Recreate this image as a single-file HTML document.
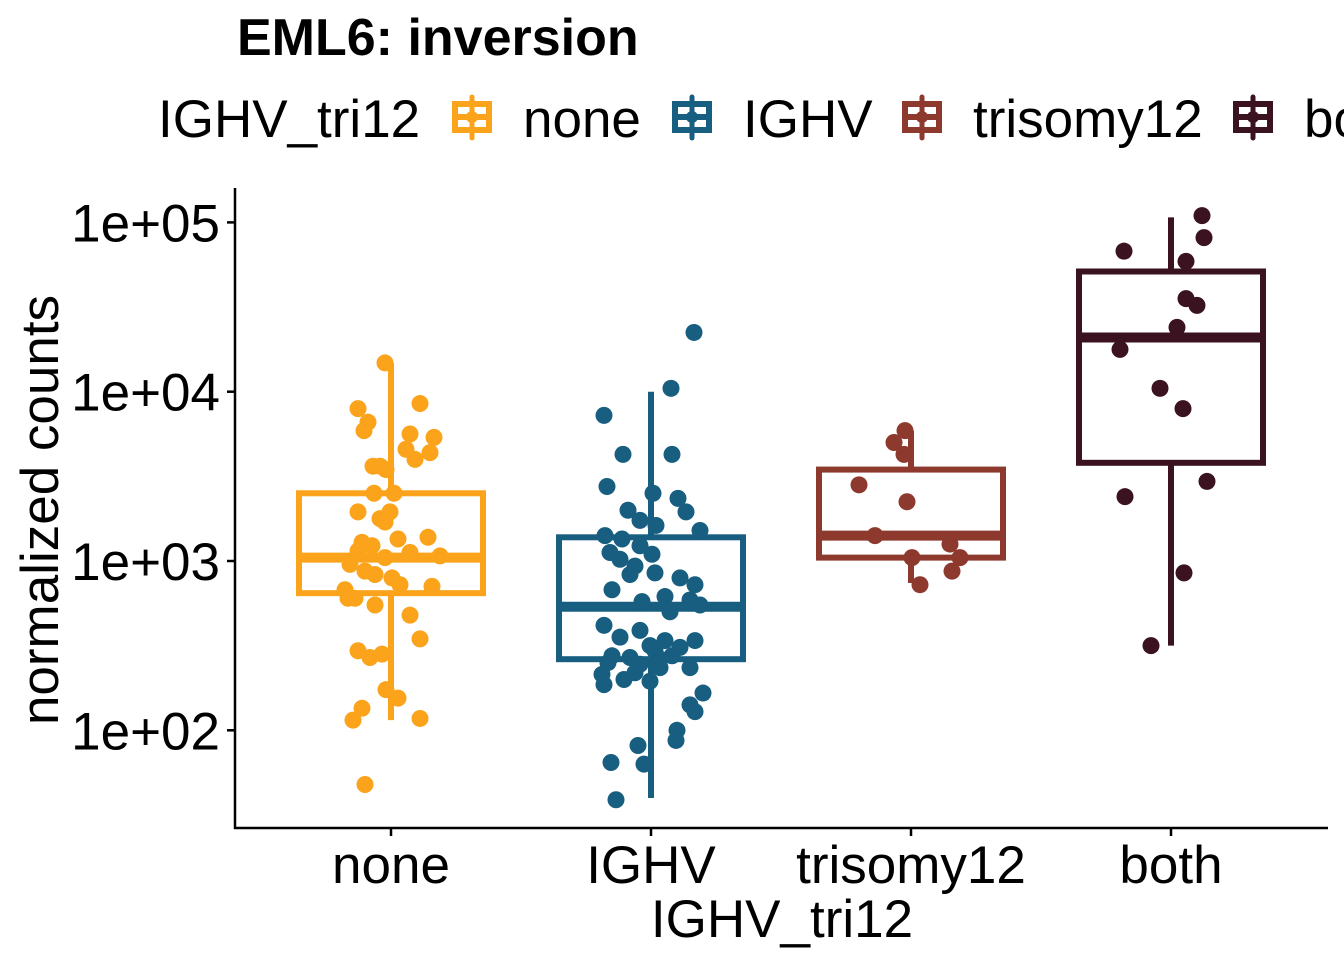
<!DOCTYPE html>
<html><head><meta charset="utf-8"><style>
html,body{margin:0;padding:0;background:#fff;}
svg text{font-family:"Liberation Sans",sans-serif;}
</style></head><body>
<svg id="chart" width="1344" height="960" xmlns="http://www.w3.org/2000/svg">
<text x="237" y="55" font-size="52" font-weight="bold">EML6: inversion</text>
<g id="legend">
<text x="158" y="137" font-size="53">IGHV_tri12</text>
</g>
<g id="plot"></g>
<line x1="235" y1="188" x2="235" y2="829" stroke="#000" stroke-width="2.5"/>
<line x1="234" y1="828" x2="1328" y2="828" stroke="#000" stroke-width="2.5"/>
<text x="782" y="937" font-size="53" text-anchor="middle">IGHV_tri12</text>
<text transform="translate(58,510) rotate(-90)" font-size="53" text-anchor="middle">normalized counts</text>
</svg>
<script>
const categories = ["none","IGHV","trisomy12","both"];
const colors = ["#FAA31B","#175E80","#8E392E","#3B1220"];
const yTickValues = [2,3,4,5];
const yTickLabels = ["1e+02","1e+03","1e+04","1e+05"];
// box stats in log10(counts): [whiskerLow, q1, median, q3, whiskerHigh]
const boxStats = [
 [2.06,2.81,3.02,3.40,4.17],
 [1.60,2.42,2.73,3.14,4.00],
 [2.87,3.02,3.15,3.54,3.77],
 [2.50,3.58,4.32,4.71,5.03]
];
const pointsNone = [4.17,3.90,3.93,3.82,3.77,3.75,3.73,3.66,3.64,3.60,3.56,3.54,3.56,3.40,3.40,3.29,3.29,3.25,3.23,3.14,3.13,3.11,3.09,3.06,3.05,3.03,3.02,2.98,2.94,2.92,2.90,2.86,2.85,2.83,2.78,2.78,2.74,2.68,2.54,2.47,2.43,2.45,2.24,2.19,2.13,2.06,2.07,1.68];
const jitterNone = [-6,-33,29,-23,-27,19,43,15,39,24,-11,-5,-18,-17,3,-33,-1,-11,-6,37,7,-29,-19,-33,19,49,-6,-41,-26,-16,1,9,41,-46,-36,-43,-16,19,29,-33,-21,-9,-5,7,-29,-38,29,-26];
const pointsIGHV = [4.35,4.02,3.86,3.63,3.63,3.44,3.40,3.37,3.30,3.29,3.24,3.21,3.18,3.15,3.13,3.09,3.05,3.04,3.01,2.97,2.92,2.93,2.90,2.86,2.83,2.79,2.76,2.77,2.74,2.70,2.62,2.59,2.55,2.53,2.53,2.50,2.44,2.43,2.49,2.40,2.39,2.37,2.37,2.30,2.27,2.29,2.22,2.15,2.11,2.00,1.94,1.91,1.81,1.80,1.59,2.42,2.44,2.47,2.33,2.34];
const jitterIGHV = [43,20,-47,-28,21,-44,2,27,-23,35,-11,5,49,-46,-29,-11,-41,1,-31,-16,-21,4,29,44,-39,14,-9,39,49,19,-47,-11,-31,14,44,-1,-39,-21,29,-43,-11,9,39,-27,-47,-1,52,39,44,26,25,-13,-40,-7,-35,9,21,4,-49,-16];
const pointsTri = [3.77,3.70,3.63,3.45,3.35,3.15,3.10,3.02,3.02,2.94,2.86];
const jitterTri = [-6,-17,-7,-52,-4,-36,39,1,49,41,9];
const pointsBoth = [5.04,4.91,4.83,4.77,4.55,4.51,4.38,4.25,4.02,3.90,3.47,3.38,2.93,2.50];
const jitterBoth = [31,33,-47,15,15,26,6,-51,-11,12,36,-46,13,-20];
const allPoints = [pointsNone,pointsIGHV,pointsTri,pointsBoth];
const allJitter = [jitterNone,jitterIGHV,jitterTri,jitterBoth];

const NS="http://www.w3.org/2000/svg";
const y = v => 561 - (v-3)*169.3;
const x = i => 391 + i*260;
const boxHalf = 92;
const svg = document.getElementById('chart');
const plot = document.getElementById('plot');
function mk(tag, attrs, parent){const e=document.createElementNS(NS,tag);for(const k in attrs)e.setAttribute(k,attrs[k]);(parent||plot).appendChild(e);return e;}

yTickValues.forEach((v,i)=>{
  const t = mk('line',{x1:227,x2:235,y1:y(v),y2:y(v),stroke:'#000','stroke-width':2.5},svg);
  
  
  const l = mk('text',{x:220,y:y(v)+19,'font-size':53,'text-anchor':'end'},svg);
  l.textContent=yTickLabels[i];
  
  
});
categories.forEach((c,i)=>{
  const t = mk('line',{x1:x(i),x2:x(i),y1:828,y2:836,stroke:'#000','stroke-width':2.5},svg);
  
  
  const l = mk('text',{x:x(i),y:883,'font-size':53,'text-anchor':'middle'},svg);
  l.textContent=c;
  
  
});
categories.forEach((c,i)=>{
  const s=boxStats[i], col=colors[i], cx=x(i);
  const g = mk('g',{});
  
  
  mk('line',{x1:cx,x2:cx,y1:y(s[3]),y2:y(s[4]),stroke:col,'stroke-width':6},g);
  mk('line',{x1:cx,x2:cx,y1:y(s[1]),y2:y(s[0]),stroke:col,'stroke-width':6},g);
  mk('rect',{x:cx-boxHalf,y:y(s[3]),width:boxHalf*2,height:y(s[1])-y(s[3]),fill:'none',stroke:col,'stroke-width':6},g);
  mk('line',{x1:cx-boxHalf,x2:cx+boxHalf,y1:y(s[2]),y2:y(s[2]),stroke:col,'stroke-width':10},g);
});
allPoints.forEach((arr,i)=>{
  arr.forEach((v,j)=>{
    const p = mk('circle',{cx:x(i)+allJitter[i][j],cy:y(v),r:8.5,fill:colors[i]});
    
    
  });
});
// legend
const legend=document.getElementById('legend');
const legendX=[472,692,922,1253];
categories.forEach((c,i)=>{
  const g=mk('g',{},legend);
  
  
  const kx=legendX[i], col=colors[i];
  mk('line',{x1:kx,x2:kx,y1:97,y2:138,stroke:col,'stroke-width':5,'stroke-linecap':'round'},g);
  mk('rect',{x:kx-17,y:104,width:34,height:26,fill:'none',stroke:col,'stroke-width':6},g);
  mk('line',{x1:kx-17,x2:kx+17,y1:117,y2:117,stroke:col,'stroke-width':6},g);
  mk('circle',{cx:kx,cy:117,r:6,fill:col},g);
  const t=mk('text',{x:kx+51,y:137,'font-size':53},g);
  t.textContent=c;
});
</script>
</body></html>
